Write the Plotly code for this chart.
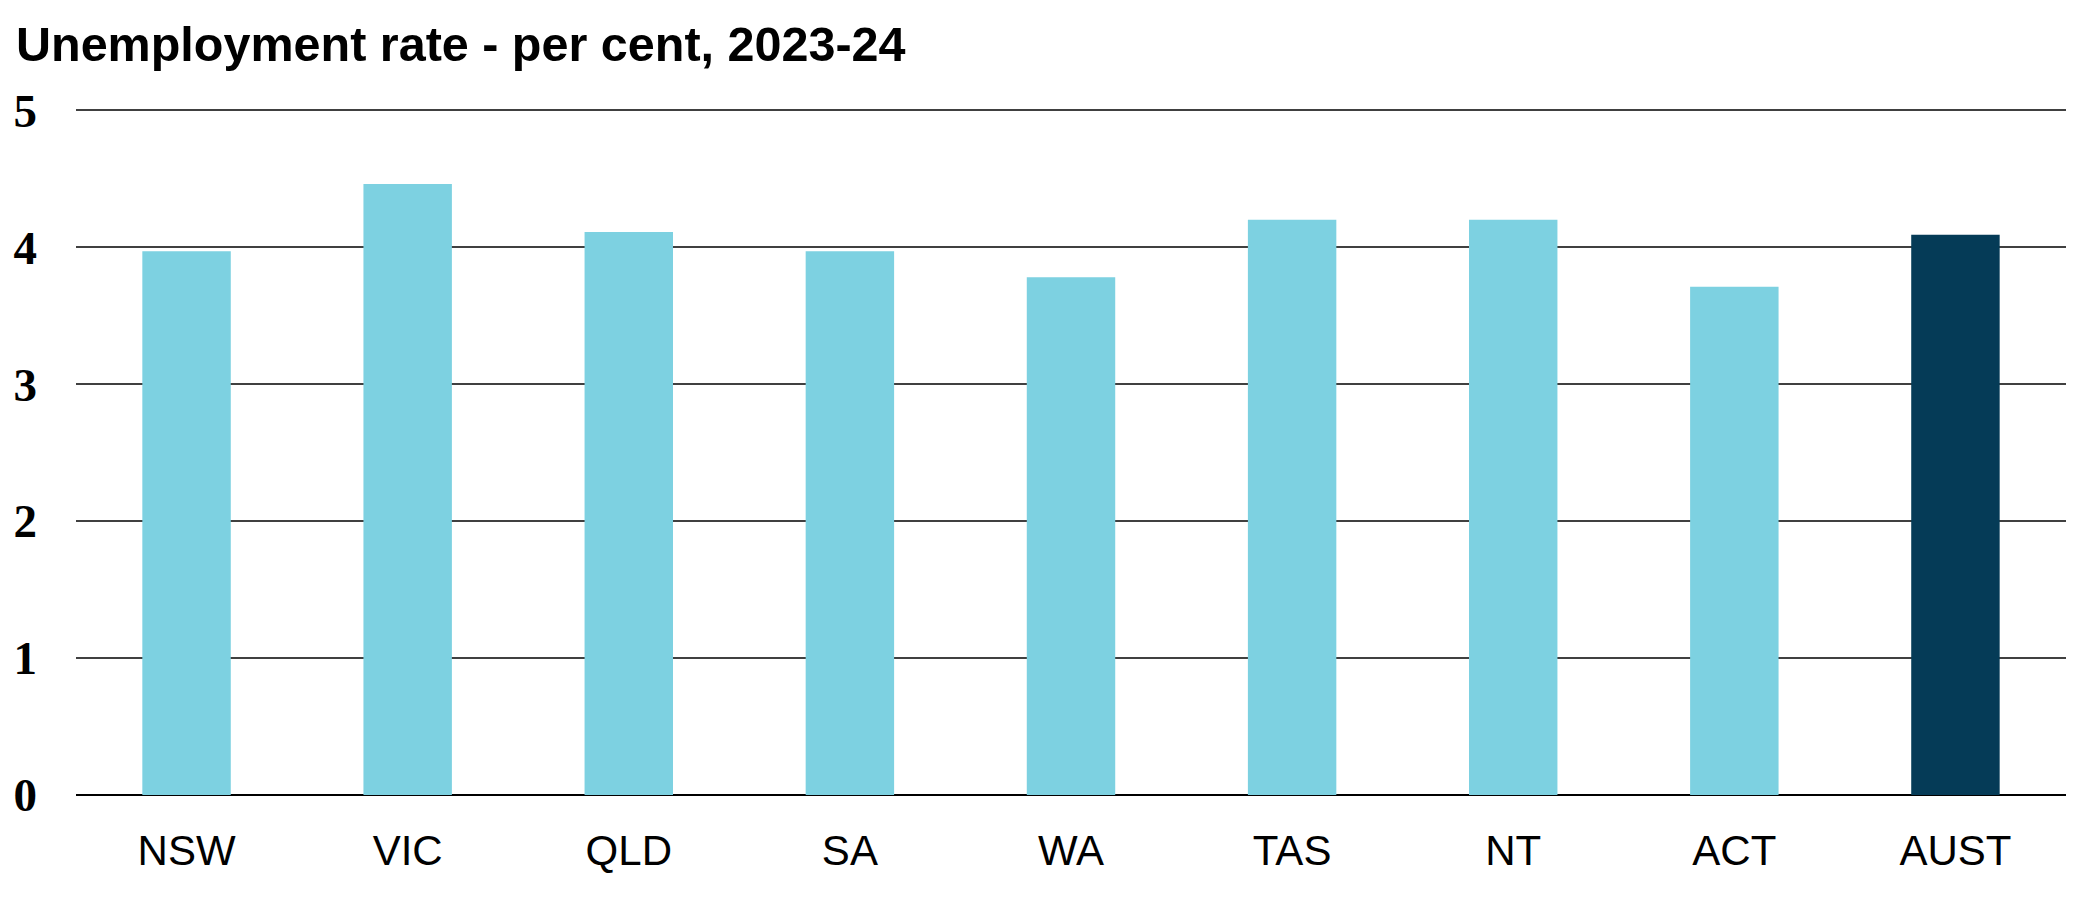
import plotly.graph_objects as go

categories = ["NSW", "VIC", "QLD", "SA", "WA", "TAS", "NT", "ACT", "AUST"]
values = [3.97, 4.46, 4.11, 3.97, 3.78, 4.2, 4.2, 3.71, 4.09]
bar_colors = ["#7DD1E1"] * 8 + ["#053B57"]
y_ticks = [0, 1, 2, 3, 4, 5]

fig = go.Figure(go.Bar(x=categories, y=values, marker=dict(color=bar_colors, line=dict(width=0)),
                       hoverinfo="x+y"))

fig.update_layout(
    width=2080, height=912,
    margin=dict(l=68, r=22, t=98, b=125),
    plot_bgcolor="white", paper_bgcolor="white",
    bargap=0.6,
    showlegend=False,
    title=dict(text="<b>Unemployment rate - per cent, 2023-24</b>",
               x=8/2080, xanchor="left", xref="container",
               y=1-36/912, yanchor="middle", yref="container",
               font=dict(family="Liberation Sans, Arial, sans-serif", size=48.5, color="black")),
)
fig.update_yaxes(range=[0, 5.03], tickvals=y_ticks, ticktext=[f"<b>{v}</b>" for v in y_ticks],
                 showgrid=True, gridcolor="#404040", gridwidth=1.5,
                 zeroline=True, zerolinecolor="black", zerolinewidth=2,
                 showline=False, ticks="", ticklabelstandoff=38, automargin=False,
                 tickfont=dict(family="Liberation Serif, Times New Roman, serif", size=47, color="black"))
fig.update_xaxes(showgrid=False, showline=False, ticks="", ticklabelstandoff=27, automargin=False,
                 tickfont=dict(family="Liberation Sans, Arial, sans-serif", size=42, color="black"))

fig.write_html("out.html")
